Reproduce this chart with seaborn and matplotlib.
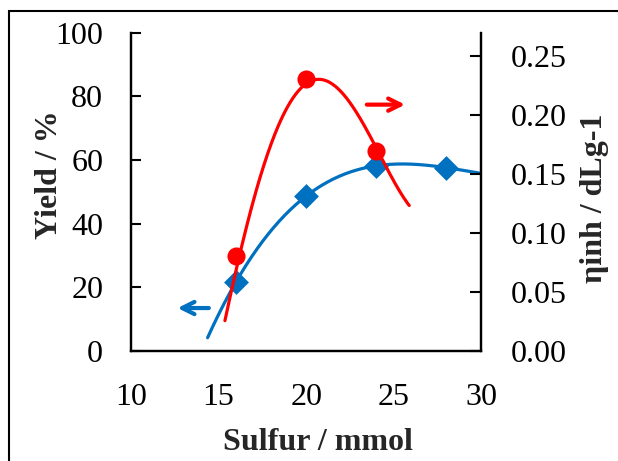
import numpy as np
import pandas as pd
import matplotlib
matplotlib.use("Agg")
import matplotlib.pyplot as plt
import seaborn as sns
from matplotlib.patches import Rectangle

sns.set_theme(style="white")
plt.rcParams['font.family'] = ['Liberation Serif', 'DejaVu Serif']

# data
sulfur = [16, 20, 24, 28]
yield_pct = [21.8, 48.7, 58.2, 57.6]
sulfur_eta = [16, 20, 24]
eta_inh = [0.081, 0.231, 0.170]

# red trend curve
red_curve_x = [15.36, 16.06, 17.55, 18.50, 19.26, 20.40, 21.35, 22.30, 23.25, 24.05, 24.96, 25.88]
red_curve_y = [0.022, 0.081, 0.148, 0.1935, 0.219, 0.233, 0.226, 0.213, 0.192, 0.171, 0.147, 0.1226]

x_ticks = [10, 15, 20, 25, 30]
yl_ticks = [0, 20, 40, 60, 80, 100]
yr_ticks = [0.00, 0.05, 0.10, 0.15, 0.20, 0.25]

BLUE = "#0070C0"
RED = "#FF0000"
FS = 23

fig = plt.figure(figsize=(6.18, 4.61), dpi=100)
ax = fig.add_axes([0.212, 0.2386, 0.567, 0.6904])
ax2 = ax.twinx()

# blue cubic trendline (polynomial order 3 of the yield data)
coef = np.polyfit(sulfur, yield_pct, 3)
bx = np.linspace(14.37, 30, 200)
blue_trend = pd.DataFrame({"x": bx, "y": np.polyval(coef, bx)})
sns.lineplot(data=blue_trend, x="x", y="y", ax=ax, color=BLUE, lw=2.3, sort=False)
sns.scatterplot(x=sulfur, y=yield_pct, ax=ax, marker="D", s=160, color=BLUE,
                edgecolor=BLUE, linewidth=0, zorder=5)

# red trendline: smoothed curve through the points
rcoef = np.polyfit(red_curve_x, red_curve_y, 4)
rx = np.linspace(red_curve_x[0], red_curve_x[-1], 200)
red_trend = pd.DataFrame({"x": rx, "y": np.polyval(rcoef, rx)})
sns.lineplot(data=red_trend, x="x", y="y", ax=ax2, color=RED, lw=2.3, sort=False)
sns.scatterplot(x=sulfur_eta, y=eta_inh, ax=ax2, marker="o", s=170, color=RED,
                edgecolor=RED, linewidth=0, zorder=5)

ax.set_xlim(10, 30)
ax.set_ylim(0, 100)
ax2.set_ylim(0, 0.270)
ax.set_xticks(x_ticks)
ax.set_yticks(yl_ticks)
ax2.set_yticks(yr_ticks)
ax2.set_yticklabels([f"{v:.2f}" for v in yr_ticks])

for a in (ax, ax2):
    a.set_facecolor("none")
    a.grid(False)
    for s in a.spines.values():
        s.set_color("black")
        s.set_linewidth(1.6)
    a.spines["top"].set_visible(False)

ax.tick_params(axis="x", direction="in", length=7, width=1.5, pad=23, labelsize=FS, colors="black")
ax.tick_params(axis="y", direction="in", length=7, width=1.5, pad=20, labelsize=FS, colors="black")
ax2.tick_params(axis="y", direction="in", length=8, width=1.5, pad=21, labelsize=FS, colors="black")

ax.set_xlabel("Sulfur / mmol", fontsize=FS, fontweight="bold")
ax.set_ylabel("Yield / %", fontsize=FS, fontweight="bold")
ax2.set_ylabel("ηinh / dLg-1", fontsize=FS, fontweight="bold")
ax.xaxis.set_label_coords(0.533, -0.243)
ax.yaxis.set_label_coords(-0.192, 0.553)
ax2.yaxis.set_label_coords(1.28, 0.48)

# direction arrows
ax.annotate("", xy=(12.5, 13.5), xytext=(14.6, 13.5), xycoords="data",
            arrowprops=dict(arrowstyle="->", color=BLUE, lw=3, mutation_scale=22))
ax2.annotate("", xy=(25.8, 0.209), xytext=(23.3, 0.209), xycoords="data",
             arrowprops=dict(arrowstyle="->", color=RED, lw=3, mutation_scale=22))

# outer frame
fig.patches.append(Rectangle((8.5 / 618, -0.1), 1.2, 1 - 11 / 461 + 0.1,
                             transform=fig.transFigure, fill=False,
                             edgecolor="black", lw=1.5))

fig.savefig("out.png", dpi=100)
